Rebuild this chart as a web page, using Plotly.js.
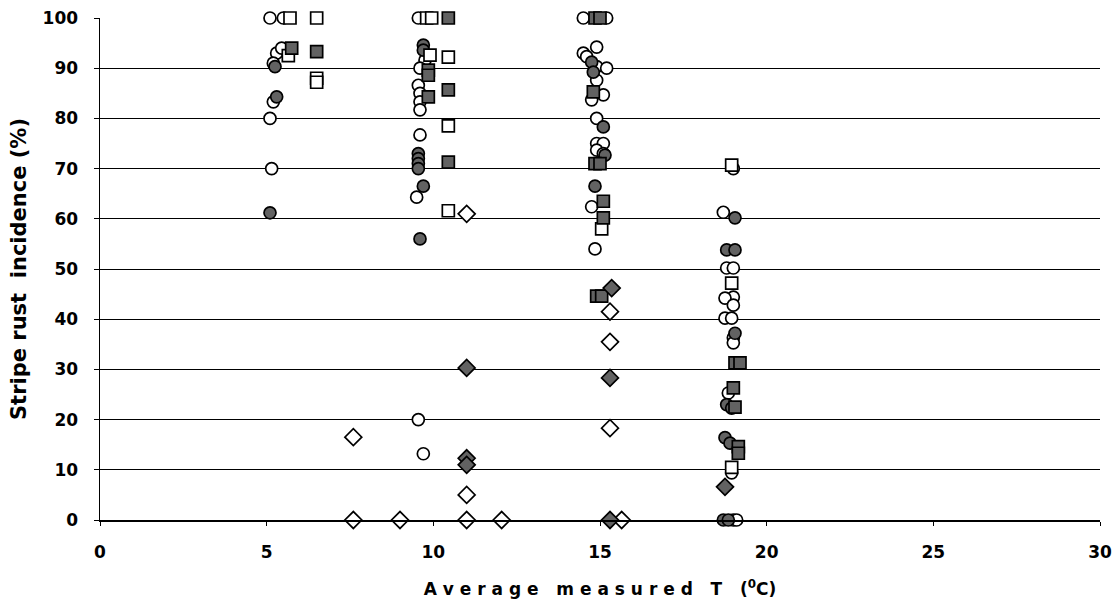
<!DOCTYPE html>
<html>
<head>
<meta charset="utf-8">
<script src="https://cdn.plot.ly/plotly-3.0.1.min.js"></script>
<style>html,body{margin:0;padding:0;background:#fff;}#chart{width:1114px;height:608px;}</style>
</head>
<body>
<div id="chart"></div>
<script>
// Open circles
var openCircleT = [5.1,5.5,5.3,5.45,5.2,5.2,5.1,5.15,
  9.55,9.75,9.6,9.55,9.6,9.6,9.6,9.6,9.5,9.55,9.7,
  14.5,15.2,14.9,14.5,14.6,14.9,15.2,14.9,15.1,14.75,14.9,14.9,15.1,14.9,15.1,14.75,14.85,
  19.0,18.7,18.8,19.0,19.0,18.75,19.0,18.75,18.95,19.0,19.0,18.85,18.95,19.0,19.1];
var openCircleY = [100,100,93,94,91,83.3,80,70,
  100,91.6,90,86.6,85,83.3,81.7,76.7,64.3,20,13.2,
  100,100,94.2,93,92.3,90.3,90,87.6,84.7,83.7,80,75,75,73.7,73,62.4,54,
  70,61.3,50.2,50.2,44.4,44.2,42.8,40.2,40.2,36.3,35.3,25.3,9.4,0,0];
// Hatched circles
var hatchCircleT = [5.25,5.3,5.1,
  9.7,9.7,9.55,9.55,9.55,9.55,9.7,9.6,
  14.75,14.8,15.1,15.15,14.85,
  19.05,18.8,19.05,19.05,18.8,18.95,18.75,18.9,18.7,18.85];
var hatchCircleY = [90.3,84.3,61.2,
  94.6,93.6,73,72,71,70,66.5,56,
  91.2,89.2,78.3,72.7,66.5,
  60.2,53.8,53.8,37.2,23,22.3,16.4,15.3,0,0];
// Open squares
var openSquareT = [5.7,6.5,5.65,6.5,6.5,
  9.8,9.95,9.9,10.45,10.45,10.45,
  15.05,18.95,18.95,18.95];
var openSquareY = [100,100,92.5,88,87.2,
  100,100,92.6,92.2,78.5,61.6,
  58,70.7,47.2,10.5];
// Hatched squares
var hatchSquareT = [5.75,6.5,
  10.45,9.85,9.85,9.85,10.45,10.45,
  14.85,15.0,14.8,14.85,15.0,15.1,15.1,14.9,15.05,
  19.05,19.2,19.0,19.05,19.15,19.15];
var hatchSquareY = [94,93.3,
  100,89.6,88.6,84.3,85.7,71.3,
  100,100,85.3,71,71,63.5,60.2,44.6,44.6,
  31.3,31.3,26.3,22.5,14.6,13.3];
// Open diamonds
var openDiamondT = [7.6,7.6,9.0,11.0,12.05,11.0,11.0,15.3,15.3,15.3,15.65];
var openDiamondY = [0,16.5,0,0,0,61,5,41.5,35.5,18.3,0];
// Hatched diamonds
var hatchDiamondT = [11.0,11.0,11.0,15.35,15.3,15.3,18.75];
var hatchDiamondY = [30.3,12.3,11,46.2,28.3,0,6.6];

var xTicks = [0,5,10,15,20,25,30];
var yTicks = [0,10,20,30,40,50,60,70,80,90,100];
var xTitleWords = ['Average', 'measured', 'T'];
var yTitle = 'Stripe rust  incidence (%)';

var hatchFill = '#626262';
function tr(x, y, sym, fill) {
  return {x: x, y: y, type: 'scatter', mode: 'markers', cliponaxis: false,
    marker: {symbol: sym, size: sym === 'diamond' ? 13 : 12, color: fill,
      line: {color: '#000', width: 1.7}}};
}
var data = [
  tr(openCircleT, openCircleY, 'circle', '#fff'),
  tr(hatchCircleT, hatchCircleY, 'circle', hatchFill),
  tr(openSquareT, openSquareY, 'square', '#fff'),
  tr(hatchSquareT, hatchSquareY, 'square', hatchFill),
  tr(openDiamondT, openDiamondY, 'diamond', '#fff'),
  tr(hatchDiamondT, hatchDiamondY, 'diamond', hatchFill)
];
var NB = '\u00A0';
var xTitleText = xTitleWords.map(function (w) { return w.split('').join(NB); }).join(NB + NB + NB) +
  NB + NB + NB + '(<sup>0</sup>C)';
var tickFont = {family: 'DejaVu Sans, Arial, sans-serif', size: 17, color: '#000'};
var xTitleFont = {family: 'DejaVu Sans, Arial, sans-serif', size: 17, color: '#000'};
var yTitleFont = {family: 'DejaVu Sans, Arial, sans-serif', size: 21, color: '#000'};
var layout = {
  width: 1114, height: 608,
  margin: {l: 100, r: 14, t: 18, b: 88},
  paper_bgcolor: '#fff', plot_bgcolor: '#fff',
  showlegend: false,
  font: tickFont,
  xaxis: {range: [0, 30], tickvals: xTicks, ticktext: xTicks.map(function (v) { return '<b>' + v + '</b>'; }),
    showgrid: false, zeroline: false, showline: true, linecolor: '#000', linewidth: 1.5,
    ticks: 'outside', ticklen: 4, tickcolor: '#000', tickfont: tickFont, ticklabelstandoff: 12,
    title: {text: '<b>' + xTitleText + '</b>', font: xTitleFont, standoff: 22}},
  yaxis: {range: [0, 100], tickvals: yTicks, ticktext: yTicks.map(function (v) { return '<b>' + v + '</b>'; }),
    showgrid: true, gridcolor: '#000', gridwidth: 1, zeroline: false,
    showline: true, linecolor: '#000', linewidth: 1.5,
    ticks: 'outside', ticklen: 5, tickcolor: '#000', tickfont: tickFont, ticklabelstandoff: 12,
    title: {text: '<b>' + yTitle + '</b>', font: yTitleFont, standoff: 10}}
};
Plotly.newPlot('chart', data, layout, {displayModeBar: false, staticPlot: true});
</script>
</body>
</html>
